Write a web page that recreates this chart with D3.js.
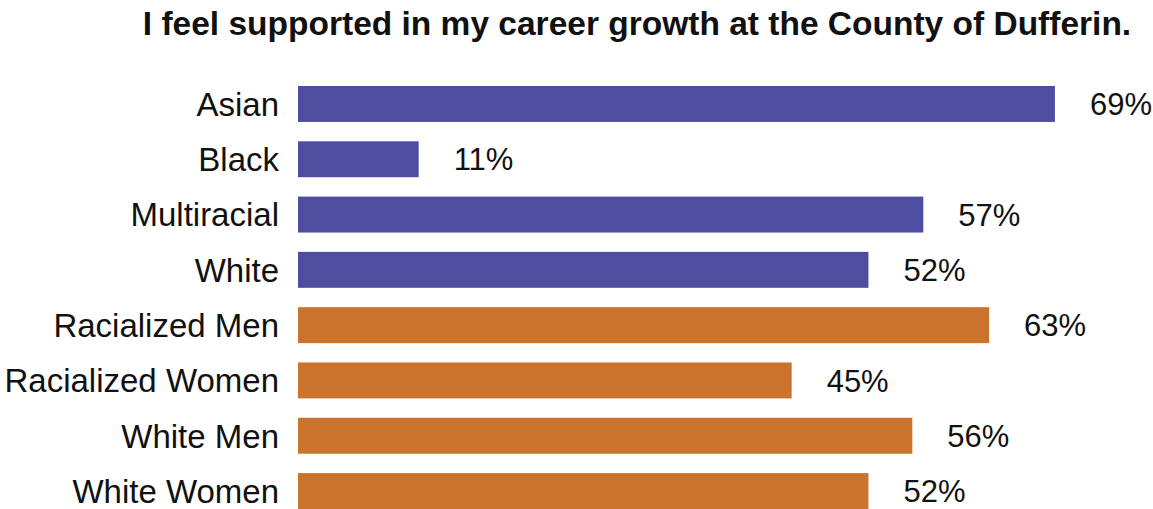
<!DOCTYPE html>
<html>
<head>
<meta charset="utf-8">
<script src="https://cdn.jsdelivr.net/npm/d3@7"></script>
<style>
  html, body { margin: 0; padding: 0; background: #ffffff; }
  svg { display: block; }
  text { font-family: "Liberation Sans", Arial, Helvetica, sans-serif; fill: #111; }
</style>
</head>
<body>
<svg id="chart" width="1153" height="509"></svg>
<script>
// Survey item and groups
const title = "I feel supported in my career growth at the County of Dufferin.";
const categories = ["Asian", "Black", "Multiracial", "White",
                    "Racialized Men", "Racialized Women", "White Men", "White Women"];
const values = [69, 11, 57, 52, 63, 45, 56, 52];
const groups = ["race", "race", "race", "race", "gender", "gender", "gender", "gender"];

const colorOf = d3.scaleOrdinal()
  .domain(["race", "gender"])
  .range(["#4f4da0", "#c9732d"]);

const svg = d3.select("#chart");

const x = d3.scaleLinear().domain([0, 100]).range([298, 1395]);
const y = d3.scaleBand()
  .domain(categories)
  .range([76.3, 518.7])
  .paddingInner(0.35)
  .paddingOuter(0.175);

const data = categories.map((c, i) => ({ cat: c, value: values[i], group: groups[i] }));

// Title
svg.append("text")
  .attr("x", 637)
  .attr("y", 35)
  .attr("text-anchor", "middle")
  .style("font-size", "33.5px")
  .style("font-weight", "bold")
  .text(title);

// Bars
svg.append("g").selectAll("rect")
  .data(data)
  .join("rect")
  .attr("x", x(0))
  .attr("y", d => y(d.cat))
  .attr("width", d => x(d.value) - x(0))
  .attr("height", y.bandwidth())
  .attr("fill", d => colorOf(d.group));

// Category labels
svg.append("g").selectAll("text")
  .data(data)
  .join("text")
  .attr("x", 279)
  .attr("y", d => y(d.cat) + y.bandwidth() / 2)
  .attr("dy", "0.36em")
  .attr("text-anchor", "end")
  .style("font-size", "33px")
  .text(d => d.cat);

// Value labels
svg.append("g").selectAll("text")
  .data(data)
  .join("text")
  .attr("x", d => x(d.value) + 35)
  .attr("y", d => y(d.cat) + y.bandwidth() / 2)
  .attr("dy", "0.36em")
  .style("font-size", "31px")
  .text(d => d.value + "%");
</script>
</body>
</html>
